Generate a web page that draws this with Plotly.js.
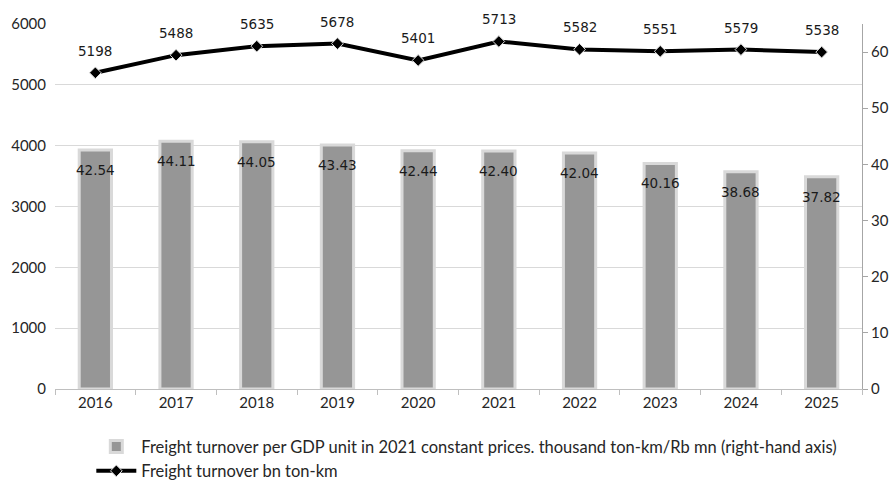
<!DOCTYPE html>
<html>
<head>
<meta charset="utf-8">
<script src="https://cdn.plot.ly/plotly-3.0.1.min.js"></script>
<style>
  html, body { margin: 0; padding: 0; background: #fff; }
  #chart { width: 893px; height: 486px; }
</style>
</head>
<body>
<div id="chart"></div>
<script>
// Years on the category axis
const years = ['2016', '2017', '2018', '2019', '2020', '2021', '2022', '2023', '2024', '2025'];

// Freight turnover, bn ton-km (left axis, line)
const turnover = [5198, 5488, 5635, 5678, 5401, 5713, 5582, 5551, 5579, 5538];

// Freight turnover per GDP unit, thousand ton-km / Rb mn (right axis, bars)
const intensity = [42.54, 44.11, 44.05, 43.43, 42.44, 42.40, 42.04, 40.16, 38.68, 37.82];

const barName = 'Freight turnover per GDP unit in 2021 constant prices. thousand ton-km/Rb mn (right-hand axis)';
const lineName = 'Freight turnover bn ton-km';

const tickFont = { family: 'Lato, "Noto Sans", sans-serif', size: 15, color: '#262626' };
const legendFont = { family: 'Lato, "Noto Sans", sans-serif', size: 16.5, color: '#262626' };
const labelFont = { family: '"DejaVu Sans", sans-serif', size: 13.5, color: '#1a1a1a' };

const bars = {
  type: 'bar',
  name: barName,
  x: years,
  y: intensity,
  yaxis: 'y2',
  width: 0.4,
  marker: { color: '#969696', line: { color: '#d9d9d9', width: 3 } },
  hoverinfo: 'x+y'
};

const line = {
  type: 'scatter',
  mode: 'lines+markers',
  name: lineName,
  x: years,
  y: turnover,
  yaxis: 'y',
  line: { color: '#000000', width: 4 },
  marker: { symbol: 'diamond', size: 9, color: '#000000', line: { color: '#e0e0e0', width: 1 } },
  hoverinfo: 'x+y'
};

// Value labels: bar labels sit just inside the bar top, line labels above each point.
// On a category axis annotations are placed by category index.
const annotations = [];
years.forEach((yr, i) => {
  annotations.push({
    x: i, y: intensity[i], xref: 'x', yref: 'y2',
    text: intensity[i].toFixed(2), showarrow: false,
    yshift: -20, font: labelFont
  });
  annotations.push({
    x: i, y: turnover[i], xref: 'x', yref: 'y',
    text: String(turnover[i]), showarrow: false,
    yshift: 22, font: labelFont
  });
});

const layout = {
  width: 893,
  height: 486,
  // fixed margins: the legend below the axis must not shrink the plot area
  margin: { l: 55, r: 31, t: 24, b: 97, autoexpand: false },
  paper_bgcolor: '#ffffff',
  plot_bgcolor: '#ffffff',
  showlegend: true,
  legend: {
    orientation: 'v',
    x: 0.045, xanchor: 'left',
    y: -0.11, yanchor: 'top',
    font: legendFont,
    traceorder: 'normal',
    tracegroupgap: 10,
    itemwidth: 40,
    bgcolor: 'rgba(0,0,0,0)'
  },
  xaxis: {
    type: 'category',
    // full category span, so the value labels do not widen the axis
    range: [-0.5, years.length - 0.5],
    autorange: false,
    tickfont: tickFont,
    showline: true,
    linecolor: '#bfbfbf',
    linewidth: 1,
    ticks: 'outside',
    tickson: 'boundaries',
    ticklen: 5,
    tickcolor: '#bfbfbf',
    showgrid: false,
    zeroline: false
  },
  yaxis: {
    range: [0, 6000],
    dtick: 1000,
    tickfont: tickFont,
    showgrid: true,
    gridcolor: '#d9d9d9',
    gridwidth: 1,
    showline: false,
    zeroline: false,
    ticks: '',
    ticklabelstandoff: 8
  },
  yaxis2: {
    range: [0, 65],
    dtick: 10,
    overlaying: 'y',
    side: 'right',
    tickfont: tickFont,
    showgrid: false,
    showline: true,
    linecolor: '#a6a6a6',
    linewidth: 1,
    ticks: 'outside',
    ticklen: 5,
    tickcolor: '#a6a6a6',
    zeroline: false
  },
  annotations: annotations
};

Plotly.newPlot('chart', [bars, line], layout, { displayModeBar: false, staticPlot: true });
</script>
</body>
</html>
